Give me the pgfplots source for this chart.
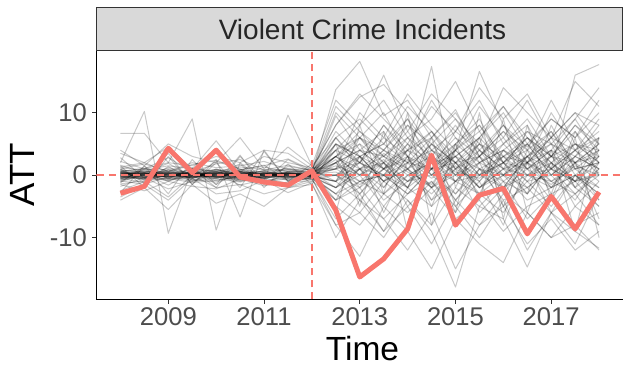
\documentclass[border=0pt]{standalone}
\usepackage{fontspec}
\setmainfont{Liberation Sans}
\usepackage{pgfplots}
\pgfplotsset{compat=1.18}
\definecolor{ggred}{HTML}{F8766D}
\definecolor{gray30}{HTML}{4D4D4D}
\definecolor{gray20}{HTML}{333333}
\definecolor{stripfill}{HTML}{D9D9D9}
\pgfplotsset{placebo/.style={black, opacity=0.21, line width=1pt, line join=round}}
\newcommand{\pl}[1]{\addplot[placebo] table[x expr={2008+0.5*\coordindex}, y index=0, header=false, row sep=\\]{#1\\};}
\begin{document}
\begin{tikzpicture}
\path[use as bounding box] (-96.5pt,-66.5pt) rectangle (526.5pt,299.5pt);
\begin{axis}[
  at={(0,0)}, anchor=south west,
  scale only axis, width=526.5pt, height=249pt,
  xmin=2007.5, xmax=2018.5, ymin=-19.9, ymax=19.95,
  axis x line*=bottom, axis y line*=left,
  axis line style={black, line width=1.6pt, -},
  xtick={2009,2011,2013,2015,2017}, xticklabels={2009,2011,2013,2015,2017},
  ytick={-10,0,10}, yticklabels={-10,0,10},
  tick align=outside, major tick length=4.5pt,
  every tick/.style={gray20, line width=1pt},
  tick label style={font=\fontsize{25.6}{30}\selectfont, text=gray30},
  xticklabel style={inner sep=3pt},
  yticklabel style={inner sep=5pt},
  clip=true,
]
\pl{0.5\\1.0\\0.3\\-0.5\\0.8\\0.2\\-0.3\\0.6\\0.4\\13.7\\18.2\\9.5\\12.0\\6.0\\10.5\\3.0\\8.0\\4.5\\9.0\\6.0\\12.0}
\pl{6.7\\6.7\\2.0\\1.5\\3.0\\2.0\\4.0\\3.5\\1.0\\8.0\\12.5\\14.5\\10.0\\4.0\\7.0\\12.0\\5.0\\9.0\\3.0\\8.0\\5.0}
\pl{2.0\\10.2\\-9.3\\1.0\\-2.0\\3.0\\-1.0\\2.5\\0.5\\-4.0\\3.0\\-6.0\\2.0\\17.4\\-2.0\\6.0\\-5.0\\4.0\\-3.0\\7.0\\2.0}
\pl{-1.0\\1.0\\2.0\\9.0\\-8.8\\2.0\\-1.0\\9.6\\1.5\\6.0\\2.0\\8.0\\3.0\\-5.0\\4.0\\16.6\\8.0\\2.0\\5.0\\-2.0\\4.0}
\pl{1.5\\-2.0\\3.0\\-1.5\\2.5\\-6.7\\4.0\\-1.0\\-0.5\\-8.0\\-6.0\\-10.0\\-4.0\\-9.0\\-17.9\\-5.0\\-7.0\\-14.7\\-6.0\\-9.0\\-11.7}
\pl{-2.5\\-1.0\\-3.5\\0.0\\-2.0\\-1.5\\-3.0\\-2.0\\-1.0\\2.0\\-3.0\\1.0\\5.0\\0.0\\3.0\\-2.0\\2.0\\6.0\\1.0\\16.0\\17.7}
\pl{0.2\\0.5\\-0.3\\0.4\\0.1\\-0.2\\0.3\\0.0\\0.1\\4.0\\6.0\\3.0\\7.0\\2.0\\5.0\\8.0\\3.0\\6.0\\2.0\\5.0\\4.0}
\pl{-0.3\\0.2\\0.6\\-0.4\\0.3\\0.5\\-0.1\\0.2\\-0.2\\-3.0\\-1.0\\2.0\\-2.0\\1.0\\-4.0\\0.0\\3.0\\-1.0\\-5.0\\0.0\\-2.0}
\pl{0.8\\-0.5\\1.2\\0.3\\-0.6\\0.9\\0.4\\-0.3\\0.5\\1.0\\5.0\\-2.0\\3.0\\7.0\\1.0\\4.0\\-1.0\\2.0\\6.0\\0.0\\3.0}
\pl{-0.6\\0.4\\-1.0\\0.7\\0.2\\-0.8\\0.5\\0.3\\0.0\\9.5\\4.0\\7.0\\1.0\\5.0\\2.0\\-3.0\\4.0\\0.0\\3.0\\-1.0\\6.0}
\pl{1.2\\0.8\\1.5\\1.0\\0.6\\1.3\\0.9\\0.7\\0.4\\-2.0\\1.0\\-4.0\\-1.0\\2.0\\-3.0\\1.0\\-2.0\\3.0\\-1.0\\2.0\\-4.0}
\pl{-1.4\\-0.9\\-0.5\\-1.2\\-0.8\\-0.3\\-1.0\\-0.6\\-0.4\\3.0\\0.0\\4.0\\1.0\\-2.0\\2.0\\5.0\\0.0\\3.0\\7.0\\1.0\\2.0}
\pl{0.0\\0.3\\-0.2\\0.1\\-0.4\\0.2\\0.0\\-0.3\\0.2\\0.5\\-1.5\\1.0\\2.5\\-0.5\\1.5\\-2.0\\1.0\\0.0\\2.0\\-1.0\\0.5}
\pl{0.4\\-0.2\\0.1\\0.6\\-0.3\\-0.5\\0.2\\0.4\\-0.1\\6.0\\9.0\\5.0\\11.0\\7.0\\3.0\\6.0\\10.0\\4.0\\7.0\\2.0\\5.0}
\pl{-0.9\\-1.5\\-0.2\\-0.7\\-1.1\\0.0\\-0.5\\-1.3\\-0.3\\-5.0\\-8.0\\-3.0\\-6.0\\-2.0\\-7.0\\-4.0\\-9.0\\-5.0\\-3.0\\-8.0\\-6.0}
\pl{2.2\\1.0\\2.8\\0.5\\1.8\\2.5\\0.8\\1.6\\0.7\\11.0\\7.0\\3.0\\6.0\\1.0\\4.0\\8.0\\2.0\\5.0\\0.0\\4.0\\9.0}
\pl{-0.2\\-0.6\\0.4\\-0.1\\0.5\\-0.4\\0.1\\-0.2\\-0.3\\-1.0\\2.0\\0.0\\-3.0\\1.0\\-1.0\\3.0\\-2.0\\0.0\\1.0\\-3.0\\0.0}
\pl{0.6\\1.1\\0.2\\0.9\\0.4\\0.0\\0.7\\1.0\\0.3\\2.0\\4.0\\1.0\\6.0\\3.0\\8.0\\2.0\\5.0\\1.0\\4.0\\9.0\\3.0}
\pl{-1.8\\-0.4\\-2.2\\-1.0\\0.3\\-1.6\\-0.7\\-1.9\\-0.6\\-7.0\\-3.0\\-9.0\\-5.0\\-11.0\\-4.0\\-8.0\\-3.0\\-6.0\\-10.0\\-5.0\\-8.0}
\pl{3.5\\2.0\\4.5\\1.0\\5.5\\0.5\\3.0\\2.0\\1.2\\1.0\\10.0\\6.0\\13.0\\8.0\\4.0\\11.0\\6.0\\12.0\\5.0\\9.0\\14.0}
\pl{-3.5\\-1.5\\-4.0\\-0.5\\-3.0\\-2.5\\-0.8\\-2.8\\-1.2\\-10.0\\-4.0\\-7.0\\-12.0\\-6.0\\-15.0\\-8.0\\-5.0\\-11.0\\-7.0\\-12.0\\-9.0}
\pl{0.1\\-0.1\\0.2\\-0.2\\0.0\\0.1\\-0.1\\0.1\\0.0\\1.5\\0.0\\2.5\\-1.0\\3.0\\0.5\\-0.5\\2.0\\1.0\\-1.5\\1.5\\0.0}
\pl{0.9\\0.3\\-0.4\\1.1\\0.6\\-0.2\\1.3\\0.5\\0.6\\5.0\\2.0\\8.0\\4.0\\12.0\\6.0\\3.0\\7.0\\2.0\\10.0\\4.0\\7.0}
\pl{-0.5\\-1.2\\0.3\\-0.9\\-0.2\\-1.0\\0.4\\-0.7\\-0.5\\-3.0\\-6.0\\-1.0\\-4.0\\-8.0\\-2.0\\-5.0\\-1.0\\-7.0\\-3.0\\-1.0\\-5.0}
\pl{1.6\\0.4\\1.9\\-0.3\\2.2\\1.0\\-0.5\\1.4\\0.8\\4.0\\8.0\\12.0\\6.0\\9.0\\15.0\\7.0\\11.0\\5.0\\9.0\\6.0\\10.0}
\pl{-1.1\\0.2\\-1.6\\0.5\\-0.9\\-0.1\\-1.4\\0.3\\-0.7\\0.0\\-3.0\\2.0\\-5.0\\-1.0\\-6.0\\1.0\\-4.0\\-2.0\\-6.0\\0.0\\-3.0}
\pl{0.3\\0.7\\0.0\\0.5\\0.9\\0.2\\0.6\\-0.1\\0.3\\7.0\\3.0\\5.0\\9.0\\4.0\\2.0\\6.0\\11.0\\6.0\\3.0\\8.0\\4.0}
\pl{-0.7\\-0.3\\-0.9\\-0.1\\-0.6\\-1.1\\-0.2\\-0.8\\-0.4\\-2.0\\3.0\\-1.0\\1.0\\-4.0\\2.0\\-2.0\\1.0\\-3.0\\2.0\\-5.0\\-1.0}
\pl{2.8\\-0.5\\3.5\\-1.5\\2.0\\-2.0\\3.8\\-1.0\\1.8\\-6.0\\8.0\\-3.0\\10.0\\-8.0\\5.0\\-4.0\\9.0\\-6.0\\4.0\\-9.0\\6.0}
\pl{-2.8\\1.5\\-3.0\\2.5\\-1.5\\3.2\\-2.0\\1.8\\-1.5\\5.0\\-5.0\\7.0\\-9.0\\3.0\\-6.0\\10.0\\-7.0\\8.0\\-4.0\\6.0\\-10.0}
\pl{0.5\\0.0\\0.8\\0.3\\-0.2\\0.6\\0.1\\0.9\\0.2\\3.0\\1.0\\0.0\\4.0\\2.0\\6.0\\1.0\\3.0\\5.0\\0.0\\3.0\\1.0}
\pl{-0.4\\0.1\\-0.7\\-0.2\\0.4\\-0.6\\-0.3\\0.2\\-0.1\\-1.0\\4.0\\1.0\\-2.0\\5.0\\0.0\\3.0\\-3.0\\2.0\\4.0\\-2.0\\1.0}
\pl{1.0\\1.8\\0.6\\2.0\\1.2\\1.5\\2.2\\0.9\\1.0\\8.0\\13.0\\9.0\\5.0\\11.0\\7.0\\14.0\\9.0\\13.0\\6.0\\10.0\\8.0}
\pl{-1.5\\-2.5\\-1.0\\-1.8\\-2.2\\-0.6\\-1.7\\-1.1\\-0.9\\-4.0\\-2.0\\-7.0\\-3.0\\-1.0\\-5.0\\-10.0\\-4.0\\-12.0\\-6.0\\-3.0\\-8.0}
\pl{0.0\\-0.4\\0.5\\0.2\\-0.1\\0.4\\-0.2\\0.3\\0.1\\2.5\\-2.0\\3.5\\0.5\\-1.5\\4.0\\0.0\\2.0\\-1.0\\3.0\\1.0\\-2.0}
\pl{0.7\\-0.8\\0.9\\-0.6\\1.0\\-0.3\\0.8\\-0.5\\0.4\\10.0\\6.0\\2.0\\8.0\\5.0\\9.0\\3.0\\7.0\\4.0\\12.0\\5.0\\3.0}
\pl{-0.2\\0.9\\-0.5\\0.7\\-0.4\\0.6\\-0.6\\0.5\\-0.2\\-2.0\\0.0\\-5.0\\0.0\\-3.0\\1.0\\-6.0\\-2.0\\1.0\\-4.0\\2.0\\-7.0}
\pl{4.0\\1.5\\5.0\\3.0\\2.0\\6.0\\1.0\\4.5\\1.5\\12.0\\8.0\\16.0\\7.0\\13.0\\9.0\\5.0\\14.0\\10.0\\6.0\\15.0\\11.0}
\pl{-4.0\\-2.0\\-5.5\\-1.5\\-4.5\\-3.0\\-5.0\\-2.0\\-1.5\\-8.0\\-13.0\\-5.0\\-9.0\\-15.0\\-7.0\\-11.0\\-14.0\\-6.0\\-10.0\\-8.0\\-12.0}
\pl{0.2\\0.6\\0.1\\-0.3\\0.4\\0.8\\0.0\\0.3\\0.2\\1.0\\3.0\\5.0\\2.0\\4.0\\0.0\\2.0\\4.0\\1.0\\3.0\\5.0\\2.0}
\pl{-0.8\\0.0\\-0.3\\-1.0\\-0.5\\0.2\\-0.9\\-0.4\\-0.3\\0.0\\-2.0\\1.0\\-1.0\\0.0\\-3.0\\2.0\\0.0\\-2.0\\1.0\\-1.0\\0.0}
\pl{1.3\\2.0\\0.5\\1.7\\2.4\\0.9\\1.5\\2.6\\0.8\\3.0\\7.0\\4.0\\2.0\\6.0\\10.0\\4.0\\1.0\\7.0\\5.0\\3.0\\8.0}
\pl{-0.1\\-0.7\\0.2\\-0.5\\0.0\\-0.9\\-0.4\\0.1\\-0.3\\-3.0\\1.0\\-2.0\\3.0\\-4.0\\-1.0\\2.0\\-5.0\\-1.0\\0.0\\-4.0\\2.0}
\pl{0.4\\0.2\\0.7\\0.1\\0.5\\0.3\\0.6\\0.0\\0.4\\0.0\\2.0\\-1.0\\1.0\\3.0\\-1.0\\0.0\\2.0\\-2.0\\1.0\\4.0\\0.0}
\pl{-0.6\\-0.2\\-0.8\\0.1\\-0.4\\-0.7\\0.0\\-0.5\\-0.2\\2.0\\-1.0\\0.0\\-3.0\\1.0\\2.0\\-2.0\\0.0\\3.0\\-2.0\\0.0\\-4.0}
\pl{1.0\\-1.2\\1.4\\-0.8\\0.2\\1.8\\-1.5\\0.6\\0.9\\-1.0\\6.0\\10.0\\3.0\\-2.0\\5.0\\9.0\\2.0\\-3.0\\8.0\\1.0\\4.0}
\pl{-1.2\\1.4\\-0.6\\1.2\\-1.5\\0.8\\1.6\\-0.9\\-0.6\\4.0\\-4.0\\-9.0\\-2.0\\6.0\\-5.0\\-1.0\\-8.0\\2.0\\-6.0\\-11.0\\-3.0}
\pl{0.3\\-0.3\\0.0\\0.4\\0.2\\-0.4\\0.3\\-0.2\\0.1\\5.0\\3.0\\1.0\\4.0\\0.0\\3.0\\6.0\\2.0\\4.0\\1.0\\5.0\\2.0}
\pl{0.1\\0.4\\-0.2\\0.3\\0.0\\-0.3\\0.2\\0.1\\0.0\\2.0\\4.0\\3.0\\1.0\\5.0\\2.0\\3.0\\6.0\\1.0\\4.0\\2.0\\3.0}
\pl{-0.3\\0.0\\0.3\\-0.2\\0.2\\0.0\\-0.4\\0.1\\-0.1\\-1.0\\1.0\\3.0\\0.0\\2.0\\-1.0\\4.0\\1.0\\2.0\\-2.0\\3.0\\1.0}
\pl{0.6\\0.2\\0.5\\0.0\\0.7\\0.4\\0.1\\0.5\\0.3\\4.0\\2.0\\6.0\\3.0\\1.0\\5.0\\2.0\\4.0\\7.0\\3.0\\2.0\\5.0}
\pl{-0.2\\-0.5\\0.0\\-0.3\\-0.1\\-0.6\\0.1\\-0.4\\-0.1\\1.0\\-1.0\\0.0\\2.0\\-2.0\\1.0\\-1.0\\3.0\\0.0\\-2.0\\2.0\\-1.0}
\pl{0.3\\0.1\\-0.1\\0.5\\0.2\\0.3\\-0.2\\0.4\\0.2\\3.0\\5.0\\2.0\\4.0\\6.0\\1.0\\5.0\\3.0\\2.0\\6.0\\4.0\\1.0}
\pl{-0.1\\0.3\\0.1\\-0.4\\0.3\\0.1\\0.2\\-0.1\\0.1\\0.0\\3.0\\-1.0\\2.0\\1.0\\4.0\\0.0\\-2.0\\3.0\\1.0\\-1.0\\2.0}
\pl{0.5\\-0.1\\0.4\\0.2\\-0.3\\0.6\\-0.1\\0.3\\0.3\\6.0\\1.0\\4.0\\8.0\\3.0\\0.0\\5.0\\2.0\\6.0\\3.0\\7.0\\0.0}
\pl{-0.4\\-0.1\\-0.6\\0.2\\-0.3\\0.1\\-0.5\\0.0\\-0.2\\-2.0\\1.0\\-3.0\\0.0\\2.0\\-4.0\\1.0\\-1.0\\-3.0\\2.0\\-2.0\\-5.0}
\pl{0.0\\0.5\\0.2\\0.0\\0.6\\-0.2\\0.4\\0.2\\0.1\\1.0\\2.0\\0.0\\5.0\\2.0\\3.0\\-1.0\\4.0\\2.0\\0.0\\3.0\\6.0}
\pl{0.2\\-0.4\\-0.1\\0.3\\-0.2\\0.4\\0.0\\-0.3\\0.0\\3.0\\0.0\\2.0\\-2.0\\4.0\\1.0\\3.0\\0.0\\5.0\\2.0\\-1.0\\3.0}
\pl{-0.5\\0.3\\-0.3\\0.0\\0.1\\-0.5\\0.3\\-0.2\\-0.3\\-4.0\\-1.0\\-3.0\\1.0\\-2.0\\0.0\\-3.0\\-6.0\\0.0\\-1.0\\-3.0\\1.0}
\pl{0.8\\0.5\\1.0\\0.2\\0.9\\0.6\\0.3\\1.1\\0.5\\2.0\\6.0\\4.0\\9.0\\1.0\\7.0\\4.0\\8.0\\3.0\\6.0\\10.0\\5.0}
\pl{-0.1\\0.1\\-0.3\\0.2\\-0.2\\0.3\\-0.1\\0.0\\0.1\\0.0\\1.0\\2.0\\-1.0\\1.0\\3.0\\1.0\\0.0\\2.0\\-1.0\\1.0\\2.0}
\pl{0.4\\0.0\\0.2\\-0.1\\0.5\\0.1\\-0.2\\0.3\\0.0\\5.0\\3.0\\-1.0\\4.0\\7.0\\2.0\\0.0\\5.0\\8.0\\1.0\\4.0\\6.0}
\pl{-0.3\\-0.6\\-0.1\\-0.4\\0.0\\-0.2\\-0.5\\-0.1\\-0.2\\-1.0\\-4.0\\0.0\\-2.0\\-5.0\\-1.0\\-3.0\\0.0\\-4.0\\-2.0\\0.0\\-3.0}
\pl{0.2\\0.3\\0.4\\0.1\\0.2\\0.5\\0.2\\0.3\\0.2\\3.0\\6.0\\1.0\\3.0\\0.0\\4.0\\7.0\\1.0\\3.0\\5.0\\2.0\\4.0}
% reference lines
\addplot[draw=ggred, color=ggred, opacity=1, solid, line width=1.4pt, dash pattern=on 7pt off 5pt] coordinates {(2007.5,0) (2018.5,0)};
\addplot[draw=ggred, color=ggred, opacity=1, solid, line width=1.4pt, dash pattern=on 7pt off 5pt] coordinates {(2012,-19.9) (2012,19.95)};
% treated unit
\addplot[draw=ggred, color=ggred, opacity=1, line width=5pt, line join=round] table[x expr={2008+0.5*\coordindex}, y index=0, header=false, row sep=\\]{-2.9\\-1.8\\4.3\\0.4\\4.0\\-0.3\\-1.1\\-1.6\\0.7\\-5.6\\-16.3\\-13.4\\-8.6\\3.2\\-8.0\\-3.2\\-2.1\\-9.4\\-3.4\\-8.6\\-2.7\\};
\end{axis}
\draw[fill=stripfill, draw=gray20, line width=0.8pt] (0,249pt) rectangle (526pt,292pt);
\node[font=\fontsize{28}{32}\selectfont, text=black!85, inner sep=0pt, anchor=base] at (266pt,259.5pt) {Violent Crime Incidents};
\node[font=\fontsize{33.5}{38}\selectfont, inner sep=0pt, text depth=0pt, anchor=base] at (266pt,-61.5pt) {Time};
\node[font=\fontsize{35}{40}\selectfont, inner sep=0pt, anchor=base, rotate=90] at (-61.5pt,124.5pt) {ATT};
\end{tikzpicture}
\end{document}
